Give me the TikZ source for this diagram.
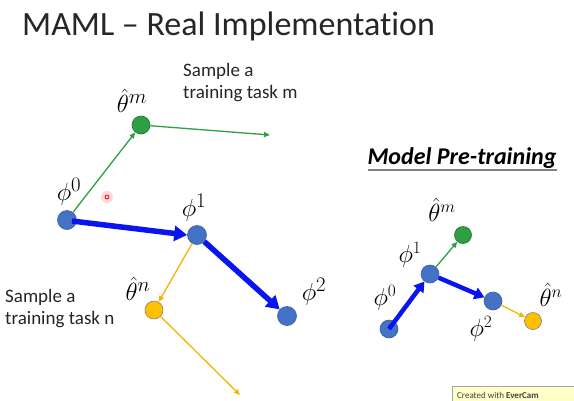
\documentclass[tikz,border=0pt]{standalone}
\usepackage{fontspec}
\setmainfont{Carlito}[Ligatures=NoCommon]
\usetikzlibrary{arrows.meta}
\definecolor{phiblue}{HTML}{4472C4}
\definecolor{phiedge}{HTML}{3A5E9E}
\definecolor{tgreen}{HTML}{2EA043}
\definecolor{tyellow}{HTML}{F2B705}
\definecolor{tyellowfill}{HTML}{FFC000}
\definecolor{arrblue}{HTML}{0A14F0}
\definecolor{wmfill}{HTML}{FFFFC8}
\tikzset{
  phinode/.style={circle,fill=phiblue,draw=phiedge,line width=0.6pt,minimum size=#1,inner sep=0pt},
  phinode/.default=19pt,
  gnode/.style={circle,fill=tgreen,draw=tgreen!70!black,line width=0.6pt,minimum size=#1,inner sep=0pt},
  gnode/.default=18pt,
  ynode/.style={circle,fill=tyellowfill,draw=gray,line width=0.6pt,minimum size=#1,inner sep=0pt},
  ynode/.default=18pt,
  bigarrow/.style={draw=arrblue,line width=5.5pt,-{Triangle[length=13pt,width=15pt]}},
  bigarrowS/.style={draw=arrblue,line width=4.5pt,-{Triangle[length=10pt,width=12pt]}},
  garrow/.style={draw=tgreen,line width=1.3pt,-{Triangle[length=6pt,width=5pt]}},
  yarrow/.style={draw=tyellow,line width=1.3pt,-{Triangle[length=6pt,width=5pt]}},
  mlabel/.style={inner sep=0pt,font=\fontsize{28}{30}\selectfont},
  mlabelS/.style={inner sep=0pt,font=\fontsize{24}{26}\selectfont},
  sample/.style={inner sep=0pt,align=left,anchor=north west,font=\fontsize{19}{22.5}\selectfont,text=black!85},
}
\begin{document}
\begin{tikzpicture}[x=1pt,y=-1pt]
\useasboundingbox (0,0) rectangle (574,400);
\fill[white] (0,0) rectangle (574,400);
% title
\node[anchor=base west,inner sep=0pt,font=\fontsize{34}{40}\selectfont,text=black!85] (title) at (22,35) {MAML -- Real Implementation};
% left diagram
\node[phinode] (p0) at (67,220) {};
\node[gnode] (tm) at (141,125) {};
\node[phinode] (p1) at (197,235) {};
\node[phinode] (p2) at (287,316) {};
\node[ynode] (tn) at (154,310) {};
\coordinate (gend) at (270,135);
\coordinate (yend) at (240,395);
\draw[garrow] (p0) -- (tm);
\draw[garrow] (tm) -- (gend);
\draw[yarrow] (p1) -- (tn);
\draw[yarrow] (tn) -- (yend);
\draw[bigarrow] (p0.center) ++(5,1) -- (p1.west);
\draw[bigarrow] (p1) -- (p2);
\node[mlabel] (lp0) at (69,192) {$\phi^0$};
\node[mlabel] (ltm) at (132,101) {$\hat{\theta}^m$};
\node[mlabel] (lp1) at (194,208) {$\phi^1$};
\node[mlabel] (lp2) at (314,292) {$\phi^2$};
\node[mlabel] (ltn) at (138,289) {$\hat{\theta}^n$};
\node[sample] (sm) at (183,63) {Sample a\\training task m};
\node[sample] (sn) at (5,289) {Sample a\\training task n};
% laser dot
\fill[red!15] (107,197) circle (6);
\draw[red,line width=0.8pt] (107,197) circle (2);
% right diagram
\node[anchor=base,inner sep=0pt,font=\fontsize{24}{28}\selectfont\bfseries\itshape] (mpt) at (462,164) {Model Pre-training};
\draw[gray,line width=1.2pt] (368,170) -- (557,170);
\node[phinode=18pt] (q0) at (389,329) {};
\node[phinode=18pt] (q1) at (430,274) {};
\node[gnode=17pt] (qm) at (463,235) {};
\node[phinode=18pt] (q2) at (493,301) {};
\node[ynode=17pt] (qn) at (533,321) {};
\draw[bigarrowS] (q0.center) -- (q1);
\draw[bigarrowS] (q1) -- (q2);
\draw[garrow] (q1) -- (qm);
\draw[yarrow] (q2) -- (qn);
\node[mlabelS] (rtm) at (442,210) {$\hat{\theta}^m$};
\node[mlabelS] (rp1) at (410,255) {$\phi^1$};
\node[mlabelS] (rp0) at (385,298) {$\phi^0$};
\node[mlabelS] (rp2) at (481,329) {$\phi^2$};
\node[mlabelS] (rtn) at (551,295) {$\hat{\theta}^n$};
% watermark
\draw[fill=wmfill,draw=gray!70] (452,386) rectangle (580,404);
\node[anchor=west,inner sep=0pt,font=\fontsize{9}{10}\selectfont,text=black!75] (wm) at (457,395) {Created with \textbf{EverCam}};
\end{tikzpicture}
\end{document}
